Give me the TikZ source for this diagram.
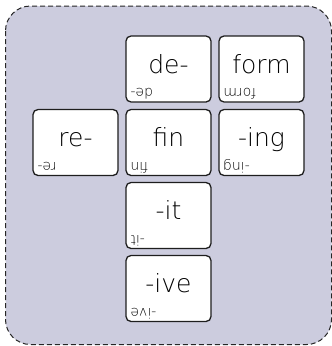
\documentclass[tikz,border=0pt]{standalone}
\usepackage{fontspec}
\setmainfont{DejaVu Sans ExtraLight}
\definecolor{panelfill}{RGB}{204,204,222}
\definecolor{tileline}{RGB}{30,30,30}
\begin{document}
\begin{tikzpicture}[x=1pt,y=-1pt,
  panel/.style={draw=black!85,dashed,dash pattern=on 5pt off 3pt,line width=1pt,
                fill=panelfill,rounded corners=25pt},
  tile/.style={draw=tileline,fill=white,line width=1.3pt,rounded corners=5pt,
               minimum width=85pt,minimum height=66pt,inner sep=0pt},
  word/.style={anchor=base,inner sep=0pt,font=\fontsize{25}{30}\selectfont},
  flipped/.style={anchor=base east,inner sep=0pt,rotate=180,
                  font=\fontsize{14}{17}\selectfont}]
\useasboundingbox (0,0) rectangle (332,346);
\draw[panel] (5.5,6) rectangle (331.5,344.5);
% tiles: name / centre / word
\foreach \n/\x/\y/\w in {de/168.5/69/de-, form/261.5/69/form,
                          re/75.5/142.5/re-, fin/168.5/142.5/fin, ing/261.5/142.5/-ing,
                          it/168.5/215.5/-it, ive/168.5/288.5/-ive}{
  \node[tile] (\n) at (\x,\y) {};
  \node[word] (\n-w) at ([yshift=-4pt]\n.center) {\w};
  \node[flipped] (\n-f) at ([xshift=5pt,yshift=14pt]\n.south west) {\w};
}
\end{tikzpicture}
\end{document}
